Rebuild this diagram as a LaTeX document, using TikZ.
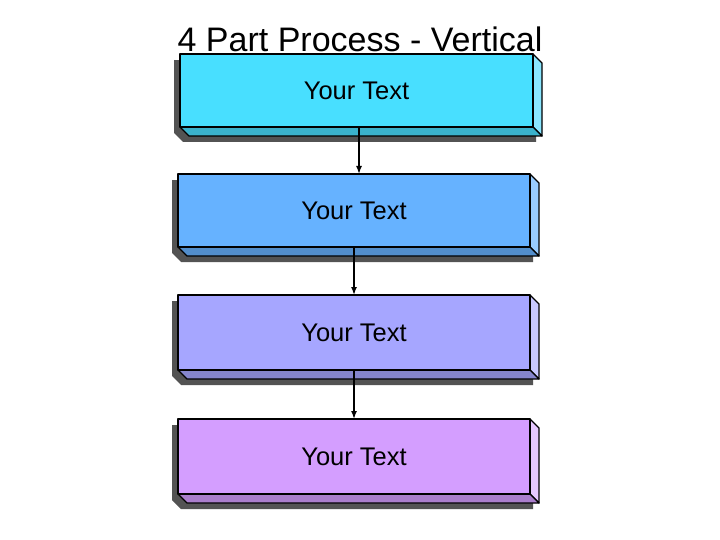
\documentclass[tikz,border=0pt]{standalone}
\usepackage{fontspec}
\setmainfont{Liberation Sans}
\usetikzlibrary{arrows.meta}
\begin{document}
\begin{tikzpicture}[x=1pt,y=-1pt,line width=1.3pt,line join=round,
  lbl/.style={font=\fontsize{25.5}{28}\selectfont},
  arr/.style={-{Latex[length=8pt,width=6pt]},line width=1.5pt}]
\useasboundingbox[fill=white] (0,0) rectangle (720,540);
\node[font=\fontsize{34}{38}\selectfont] (title) at (360,39) {4 Part Process - Vertical};
\newcommand{\pbox}[7]{% name, x1,y1,x2,y2, front, side
  \fill[gray!65!black] (#2-6,#3+6) -- (#4-6+9,#3+6+9) -- (#4-6+9,#5+6+9) -- (#2-6+9,#5+6+9) -- (#2-6,#5+6) -- cycle;
  \fill[gray!65!black] (#2-6,#3+6) rectangle (#4-6,#5+6);
  \filldraw[fill=#7] (#4,#3) -- (#4+9,#3+9) -- (#4+9,#5+9) -- (#4,#5) -- cycle;
  \filldraw[fill=#6!80!black] (#2,#5) -- (#4,#5) -- (#4+9,#5+9) -- (#2+9,#5+9) -- cycle;
  \filldraw[fill=#6] (#2,#3) rectangle (#4,#5);
  \node[lbl] (#1) at ({(#2+#4)/2},{(#3+#5)/2}) {Your Text};
}
\definecolor{f1}{HTML}{48DFFF}\definecolor{s1}{HTML}{8AE6FF}
\definecolor{f2}{HTML}{66B2FF}\definecolor{s2}{HTML}{99CCFF}
\definecolor{f3}{HTML}{A6A6FF}\definecolor{s3}{HTML}{C8C8FF}
\definecolor{f4}{HTML}{D49EFF}\definecolor{s4}{HTML}{E6C8FF}
\pbox{a}{180}{54}{533}{127}{f1}{s1}
\pbox{b}{178}{174}{530}{247}{f2}{s2}
\pbox{c}{178}{295}{530}{370}{f3}{s3}
\pbox{d}{178}{419}{530}{494}{f4}{s4}
\draw[arr] (359,127) -- (359,174);
\draw[arr] (354,247) -- (354,295);
\draw[arr] (354,370) -- (354,419);
\end{tikzpicture}
\end{document}
